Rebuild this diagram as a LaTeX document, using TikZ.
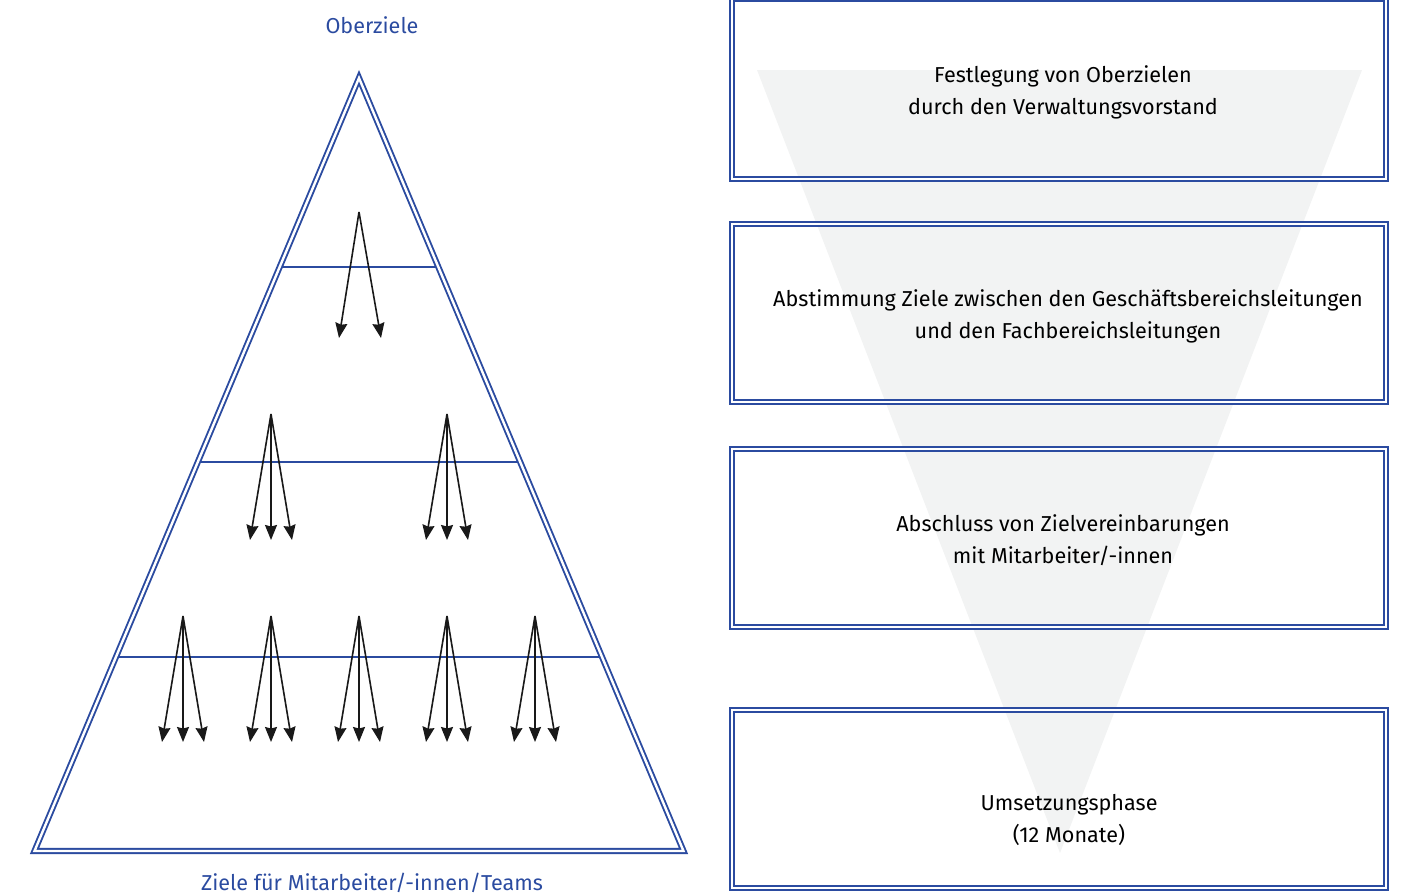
\documentclass[tikz,border=0pt]{standalone}
\usepackage{fontspec}
\setmainfont{Fira Sans}
\usetikzlibrary{arrows.meta}
\definecolor{bl}{HTML}{2B4BA0}
\definecolor{gr}{HTML}{F2F3F3}
\begin{document}
\begin{tikzpicture}[x=1pt,y=-1pt,
  dbl/.style={draw=bl, line width=1.9pt, double=white, double distance=2.4pt},
  boxst/.style={dbl, minimum width=654pt, minimum height=178pt, inner sep=0pt},
  txt/.style={font=\fontsize{21.6}{32}\selectfont, align=center, text=black},
  lbl/.style={font=\fontsize{21.6}{24}\selectfont, text=bl},
  arr/.style={line width=1.6pt, draw=black!90, -{Stealth[length=15pt,width=12pt,inset=1.5pt]}},
  sep/.style={draw=bl, line width=1.3pt}]
\useasboundingbox (0,0) rectangle (1404,895);
% background funnel
\fill[gr] (757,70) -- (1362,70) -- (1060,853) -- cycle;
% boxes
\node[boxst, minimum height=180pt] (b1) at (1059,89) {};
\node[boxst] (b2) at (1059,313) {};
\node[boxst] (b3) at (1059,538) {};
\node[boxst] (b4) at (1059,799) {};
\node[txt] (t1) at (1063,92) {Festlegung von Oberzielen\\durch den Verwaltungsvorstand};
\node[txt] (t2) at (1068,316) {Abstimmung Ziele zwischen den Geschäftsbereichsleitungen\\und den Fachbereichsleitungen};
\node[txt] (t3) at (1063,540) {Abschluss von Zielvereinbarungen\\mit Mitarbeiter/-innen};
\node[txt] (t4) at (1069,820) {Umsetzungsphase\\(12 Monate)};
% pyramid
\coordinate (apex) at (359,78);
\coordinate (bl) at (34.5,851);
\coordinate (br) at (683.5,851);
\draw[dbl, line join=miter] (apex) -- (br) -- (bl) -- cycle;
\coordinate (s1l) at (282,267); \coordinate (s1r) at (436,267);
\coordinate (s2l) at (200,462); \coordinate (s2r) at (518,462);
\coordinate (s3l) at (118,657); \coordinate (s3r) at (600,657);
\draw[sep] (s1l) -- (s1r);
\draw[sep] (s2l) -- (s2r);
\draw[sep] (s3l) -- (s3r);
\node[lbl] (top) at (372,25) {Oberziele};
\node[lbl] (bot) at (372,883) {Ziele für Mitarbeiter/-innen/Teams};
% arrows row 1
\coordinate (a1) at (359,212);
\coordinate (a1l) at (339,338); \coordinate (a1r) at (381,338);
\draw[arr] (a1) -- (a1l);
\draw[arr] (a1) -- (a1r);
% row 2
\foreach \x [count=\i] in {271,447}{
  \coordinate (r2s\i) at (\x,414);
  \coordinate (r2a\i) at (\x-21,540);
  \coordinate (r2b\i) at (\x,540);
  \coordinate (r2c\i) at (\x+21,540);
  \draw[arr] (r2s\i) -- (r2a\i);
  \draw[arr] (r2s\i) -- (r2b\i);
  \draw[arr] (r2s\i) -- (r2c\i);
}
% row 3
\foreach \x [count=\i] in {183,271,359,447,535}{
  \coordinate (r3s\i) at (\x,616);
  \coordinate (r3a\i) at (\x-21,742);
  \coordinate (r3b\i) at (\x,742);
  \coordinate (r3c\i) at (\x+21,742);
  \draw[arr] (r3s\i) -- (r3a\i);
  \draw[arr] (r3s\i) -- (r3b\i);
  \draw[arr] (r3s\i) -- (r3c\i);
}
\end{tikzpicture}
\end{document}
